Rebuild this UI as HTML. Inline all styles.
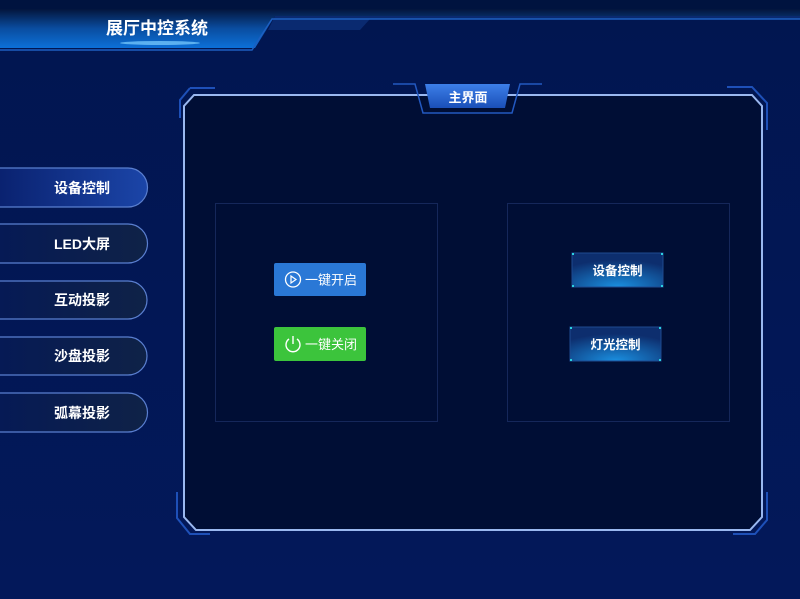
<!DOCTYPE html>
<html><head><meta charset="utf-8"><style>
body{margin:0;width:800px;height:599px;overflow:hidden;background:#011751;font-family:"Liberation Sans","Noto Sans CJK SC",sans-serif}
svg{position:absolute;left:0;top:0}
.t{font-family:"Liberation Sans","Noto Sans CJK SC",sans-serif;font-weight:bold;fill:#fff}
</style></head><body>
<svg width="800" height="599" viewBox="0 0 800 599">
<defs>
<linearGradient id="bg" x1="0" y1="0" x2="0" y2="1"><stop offset="0" stop-color="#011650"/><stop offset="1" stop-color="#03185a"/></linearGradient>
<linearGradient id="tb" x1="0" y1="0" x2="0" y2="1"><stop offset="0" stop-color="#03153c"/><stop offset="0.5" stop-color="#0a4da0"/><stop offset="1" stop-color="#0c70d8"/></linearGradient>
<linearGradient id="sb" x1="0" y1="0" x2="1" y2="0"><stop offset="0" stop-color="#061a55"/><stop offset="1" stop-color="#0f2247"/></linearGradient>
<linearGradient id="sa" x1="0" y1="0" x2="1" y2="0"><stop offset="0" stop-color="#0a2270"/><stop offset="1" stop-color="#1b45a8"/></linearGradient>
<radialGradient id="rb" cx="0.5" cy="1" r="0.8"><stop offset="0" stop-color="#1a8fe0"/><stop offset="1" stop-color="#0d2e6e"/></radialGradient>
<linearGradient id="tab" x1="0" y1="0" x2="0" y2="1"><stop offset="0" stop-color="#3d7fe8"/><stop offset="1" stop-color="#1a4fb8"/></linearGradient>
</defs>
<rect width="800" height="599" fill="url(#bg)"/>
<rect width="800" height="9" fill="#00133f"/>
<!-- title bar -->
<polygon points="0,9 800,9 800,16 275,16 255,48 0,48" fill="url(#tb)"/>
<polygon points="275,16 800,16 800,19 370,19 360,30 268,30" fill="#0a2a70"/>
<polyline points="0,50 252,50 272,19 800,19" fill="none" stroke="#1d5fc0" stroke-width="1.5"/>
<ellipse cx="160" cy="43" rx="40" ry="2" fill="#7fd0ff" opacity="0.7"/>
<text x="157" y="34" class="t" font-size="17" text-anchor="middle">展厅中控系统</text>
<!-- main panel -->
<polygon points="194,95 752,95 762,106 762,517 750,530 196,530 184,517 184,106" fill="#000e35" stroke="#9ab8f0" stroke-width="2"/>
<polyline points="190,88 180,100 180,118" fill="none" stroke="#1e50b8" stroke-width="2"/>
<polyline points="215,88 190,88" fill="none" stroke="#1e50b8" stroke-width="2"/>
<polyline points="727,87 752,87 767,103 767,130" fill="none" stroke="#1e50b8" stroke-width="2"/>
<polyline points="177,492 177,518 190,534 210,534" fill="none" stroke="#1e50b8" stroke-width="2"/>
<polyline points="767,492 767,520 755,534 733,534" fill="none" stroke="#1e50b8" stroke-width="2"/>
<!-- tab -->
<polyline points="393,84 415,84 423,113 512,113 520,84 542,84" fill="none" stroke="#2258c0" stroke-width="1.5"/>
<polygon points="425,84 510,84 505,108 430,108" fill="url(#tab)"/>
<text x="468" y="102" class="t" font-size="13" text-anchor="middle">主界面</text>
<!-- inner boxes -->
<rect x="215.5" y="203.5" width="222" height="218" fill="none" stroke="#15275a"/>
<rect x="507.5" y="203.5" width="222" height="218" fill="none" stroke="#15275a"/>
<!-- left buttons -->
<rect x="274" y="263" width="92" height="33" rx="2" fill="#2a78d6"/>
<circle cx="293" cy="279.5" r="7.5" fill="none" stroke="#fff" stroke-width="1.3"/>
<path d="M291 276 L291 283 L296 279.5Z" fill="none" stroke="#fff" stroke-width="1.2"/>
<text x="331" y="284.5" font-size="13" fill="#fff" text-anchor="middle" font-family="Liberation Sans,Noto Sans CJK SC,sans-serif">一键开启</text>
<rect x="274" y="327" width="92" height="34" rx="2" fill="#3cc43c"/>
<path d="M289 339 A7 7 0 1 0 297 339" fill="none" stroke="#fff" stroke-width="1.4"/>
<line x1="293" y1="336" x2="293" y2="344" stroke="#fff" stroke-width="1.4"/>
<text x="331" y="349" font-size="13" fill="#fff" text-anchor="middle" font-family="Liberation Sans,Noto Sans CJK SC,sans-serif">一键关闭</text>
<!-- right buttons -->
<rect x="572" y="253" width="91" height="34" fill="url(#rb)" stroke="#1e4a90"/>
<text x="617.5" y="275" class="t" font-size="12.5" text-anchor="middle">设备控制</text>
<rect x="570" y="327" width="91" height="34" fill="url(#rb)" stroke="#1e4a90"/>
<text x="615.5" y="349" class="t" font-size="12.5" text-anchor="middle">灯光控制</text>
<g fill="#2bd0e0"><rect x="572" y="253" width="2" height="2"/><rect x="661" y="253" width="2" height="2"/><rect x="572" y="285" width="2" height="2"/><rect x="661" y="285" width="2" height="2"/><rect x="570" y="327" width="2" height="2"/><rect x="659" y="327" width="2" height="2"/><rect x="570" y="359" width="2" height="2"/><rect x="659" y="359" width="2" height="2"/></g>
<!-- sidebar -->
<g stroke="#5a7fd0" stroke-width="1.2">
<path d="M0,168 H128 A19.5,19.5 0 0 1 128,207 H0" fill="url(#sa)"/>
<path d="M0,224 H128 A19.5,19.5 0 0 1 128,263 H0" fill="url(#sb)"/>
<path d="M0,281 H128 A19,19 0 0 1 128,319 H0" fill="url(#sb)"/>
<path d="M0,337 H128 A19,19 0 0 1 128,375 H0" fill="url(#sb)"/>
<path d="M0,393 H128 A19.5,19.5 0 0 1 128,432 H0" fill="url(#sb)"/>
</g>
<g class="t" font-size="14" text-anchor="middle">
<text x="82" y="193">设备控制</text>
<text x="82" y="249">LED大屏</text>
<text x="82" y="305">互动投影</text>
<text x="82" y="361">沙盘投影</text>
<text x="82" y="418">弧幕投影</text>
</g>
</svg>
</body></html>
